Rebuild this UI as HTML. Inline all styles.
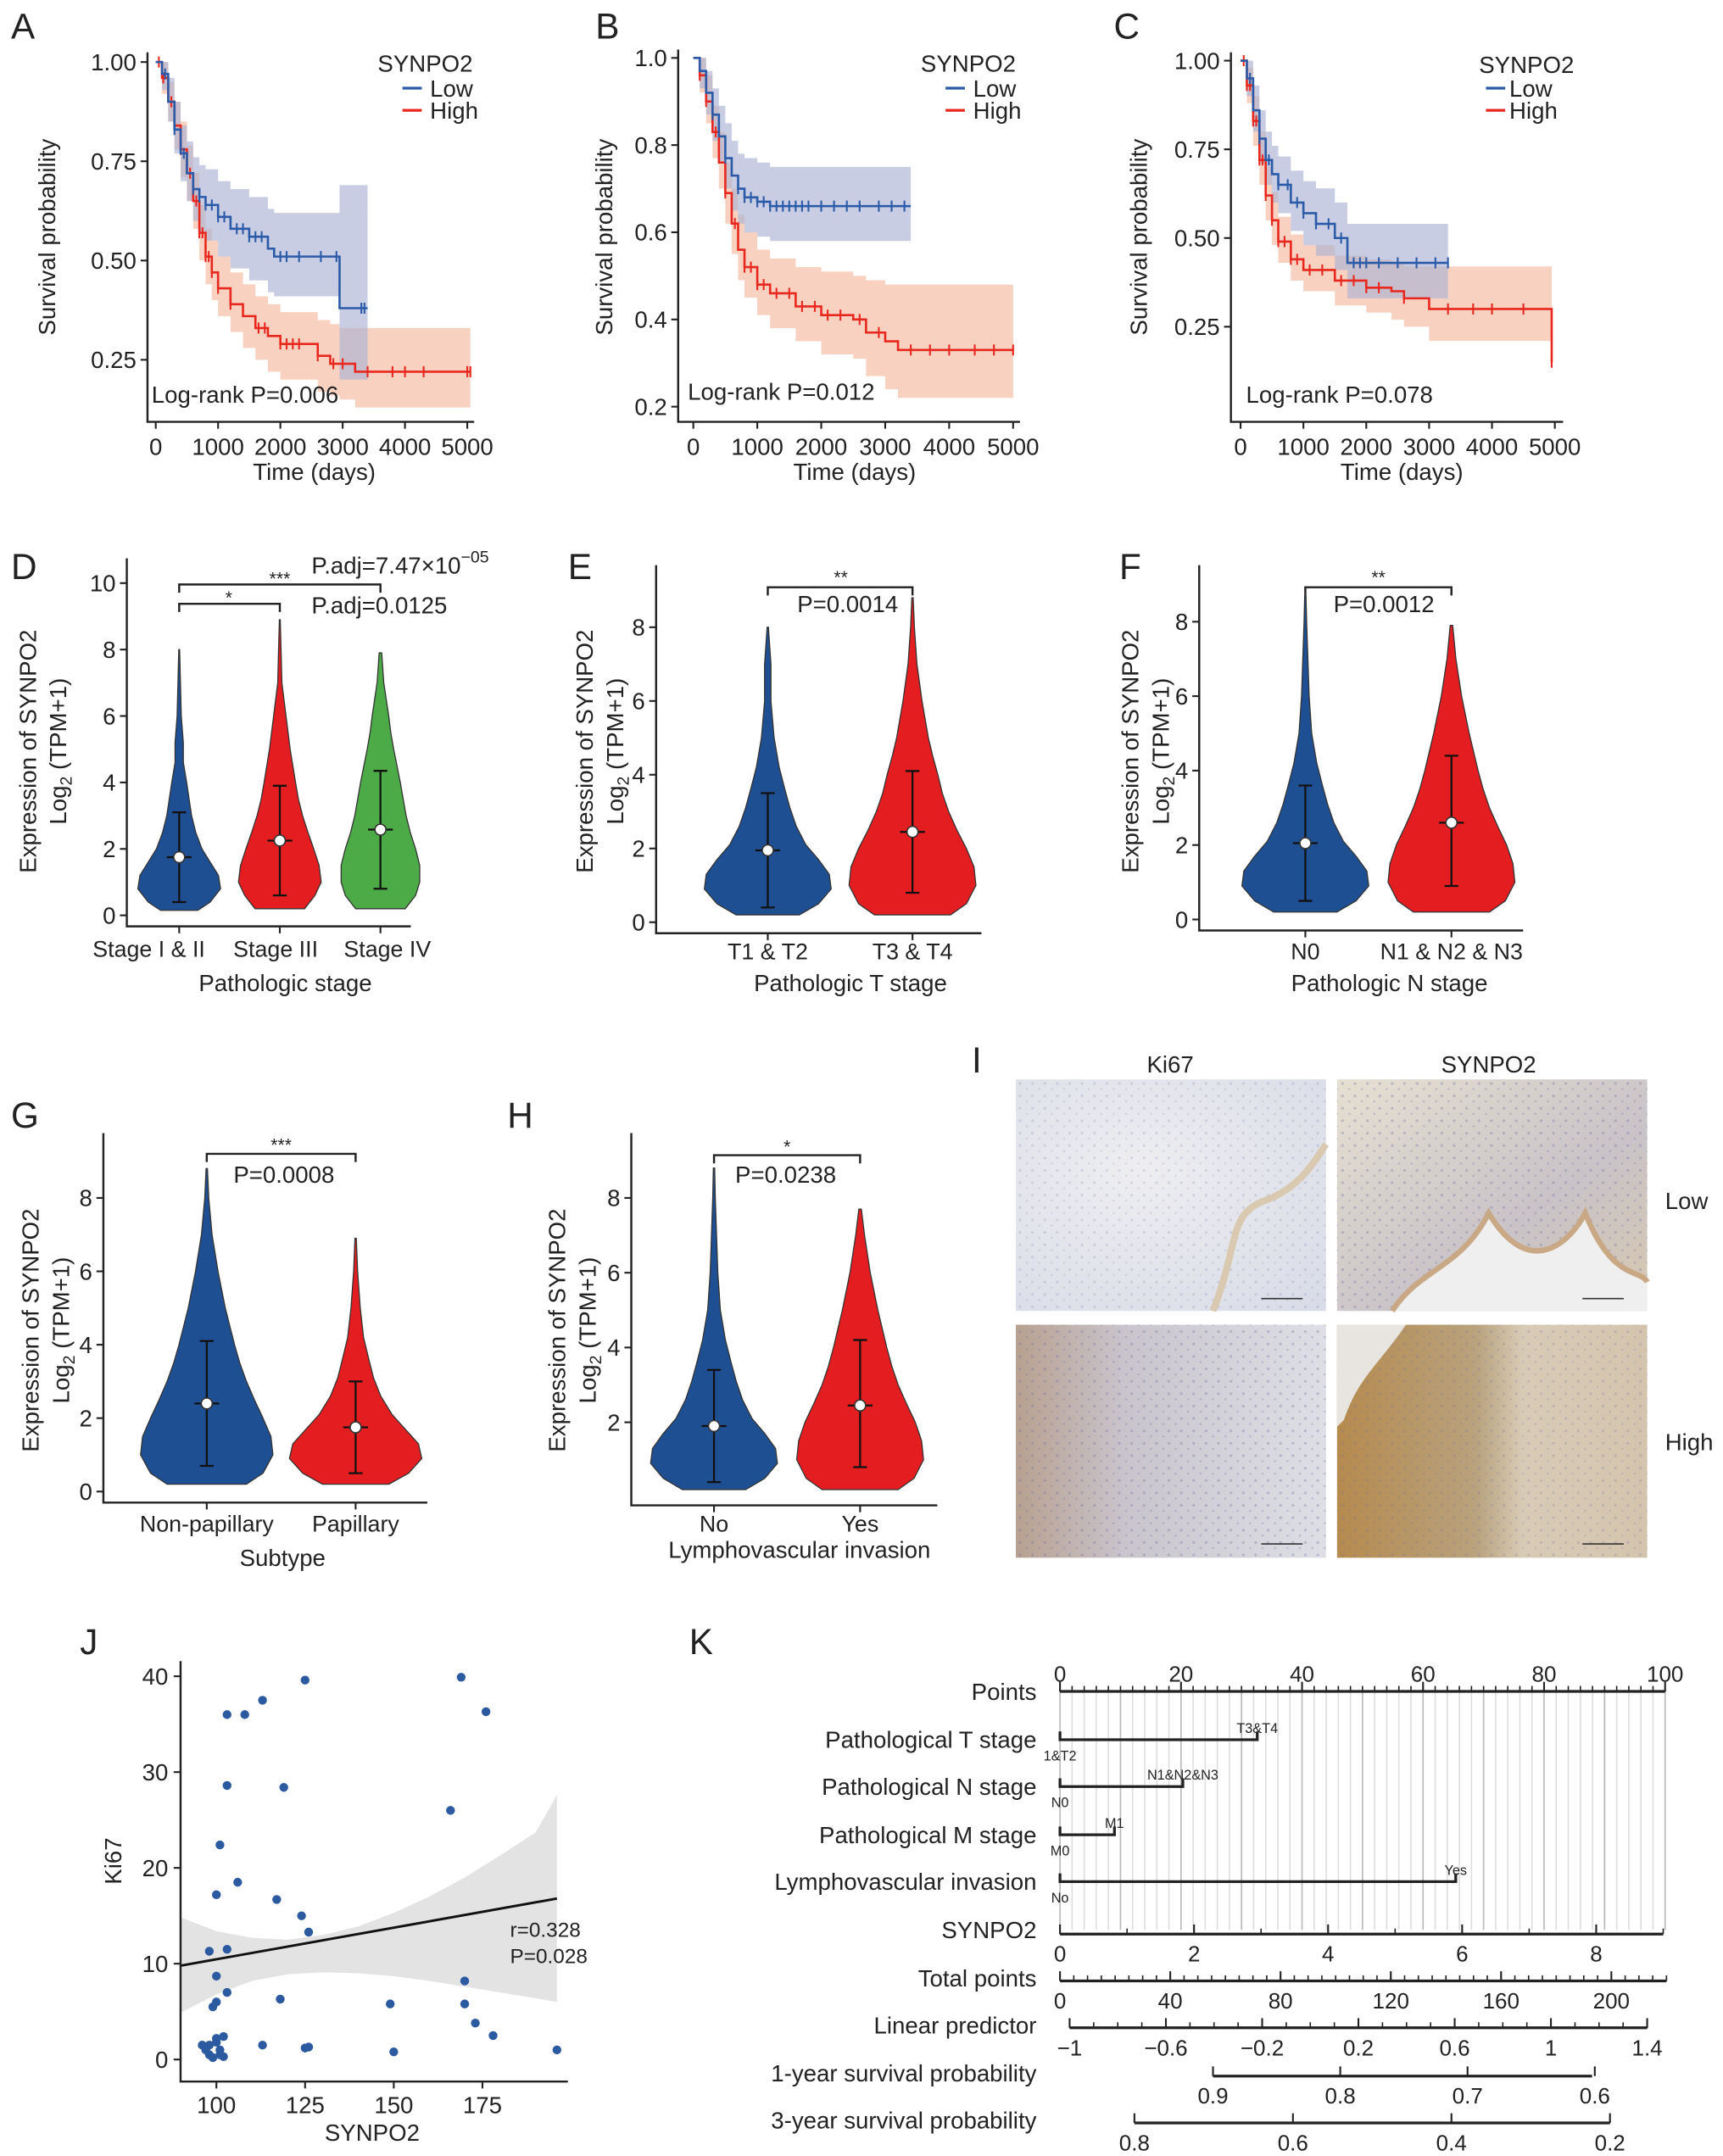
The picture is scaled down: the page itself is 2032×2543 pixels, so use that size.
<!DOCTYPE html>
<html><head><meta charset="utf-8"><title>SYNPO2 figure</title>
<style>
html,body{margin:0;padding:0;background:#fff}
svg{display:block}
text{font-family:"Liberation Sans",Arial,sans-serif;fill:#222}
</style></head>
<body>
<svg id="fig" xmlns="http://www.w3.org/2000/svg" width="2032" height="2543" viewBox="0 0 1250 1564" preserveAspectRatio="none">
<defs>
<radialGradient id="gTL" cx="0.4" cy="0.4" r="0.8"><stop offset="0" stop-color="#eeeef0"/><stop offset="1" stop-color="#d9dce8"/></radialGradient>
<linearGradient id="gTR" x1="0" y1="0" x2="1" y2="1"><stop offset="0" stop-color="#e6e0d2"/><stop offset="0.6" stop-color="#c9c3c8"/><stop offset="1" stop-color="#d8c8b0"/></linearGradient>
<linearGradient id="gBL" x1="0" y1="0" x2="1" y2="0"><stop offset="0" stop-color="#b8a090"/><stop offset="0.35" stop-color="#c9c4cc"/><stop offset="1" stop-color="#dedfe6"/></linearGradient>
<linearGradient id="gBR" x1="0" y1="0" x2="1" y2="0"><stop offset="0" stop-color="#b58a4e"/><stop offset="0.45" stop-color="#b9a27e"/><stop offset="0.6" stop-color="#d8cbb6"/><stop offset="1" stop-color="#d4c4ae"/></linearGradient>
<pattern id="cells" width="9" height="9" patternUnits="userSpaceOnUse"><circle cx="2" cy="3" r="1" fill="#6a70a0" fill-opacity="0.35"/><circle cx="7" cy="7" r="0.8" fill="#6a70a0" fill-opacity="0.3"/></pattern>
</defs>

<!-- panel letters -->
<text x="8" y="28" font-size="26">A</text>
<text x="432" y="28" font-size="26">B</text>
<text x="808" y="28" font-size="26">C</text>
<text x="8" y="420" font-size="26">D</text>
<text x="412" y="420" font-size="26">E</text>
<text x="812" y="420" font-size="26">F</text>
<text x="8" y="818" font-size="26">G</text>
<text x="368" y="818" font-size="26">H</text>
<text x="705" y="778" font-size="26">I</text>
<text x="58" y="1200" font-size="26">J</text>
<text x="500" y="1200" font-size="26">K</text>

<!-- KM legends / texts -->
<g font-size="17">
<text x="274" y="52">SYNPO2</text>
<line x1="292" y1="64" x2="306" y2="64" stroke="#2b5ba8" stroke-width="2"/><text x="312" y="70">Low</text>
<line x1="292" y1="80" x2="306" y2="80" stroke="#e8281e" stroke-width="2"/><text x="312" y="86">High</text>
</g>
<g font-size="17">
<text x="668" y="52">SYNPO2</text>
<line x1="686" y1="64" x2="700" y2="64" stroke="#2b5ba8" stroke-width="2"/><text x="706" y="70">Low</text>
<line x1="686" y1="80" x2="700" y2="80" stroke="#e8281e" stroke-width="2"/><text x="706" y="86">High</text>
</g>
<g font-size="17">
<text x="1073" y="53">SYNPO2</text>
<line x1="1078" y1="64" x2="1092" y2="64" stroke="#2b5ba8" stroke-width="2"/><text x="1095" y="70">Low</text>
<line x1="1078" y1="80" x2="1092" y2="80" stroke="#e8281e" stroke-width="2"/><text x="1095" y="86">High</text>
</g>

<!-- KM axis titles -->
<text transform="translate(40,172) rotate(-90)" text-anchor="middle" font-size="17">Survival probability</text>
<text x="228" y="348" text-anchor="middle" font-size="17">Time (days)</text>
<text transform="translate(444,172) rotate(-90)" text-anchor="middle" font-size="17">Survival probability</text>
<text x="620" y="348" text-anchor="middle" font-size="17">Time (days)</text>
<text transform="translate(832,172) rotate(-90)" text-anchor="middle" font-size="17">Survival probability</text>
<text x="1017" y="348" text-anchor="middle" font-size="17">Time (days)</text>

<!-- violin y titles -->
<g font-size="17">
<text transform="translate(26,545) rotate(-90)" text-anchor="middle">Expression of SYNPO2</text>
<text transform="translate(48,545) rotate(-90)" text-anchor="middle">Log<tspan font-size="12" dy="4">2</tspan><tspan dy="-4"> (TPM+1)</tspan></text>
<text transform="translate(430,545) rotate(-90)" text-anchor="middle">Expression of SYNPO2</text>
<text transform="translate(452,545) rotate(-90)" text-anchor="middle">Log<tspan font-size="12" dy="4">2</tspan><tspan dy="-4"> (TPM+1)</tspan></text>
<text transform="translate(826,545) rotate(-90)" text-anchor="middle">Expression of SYNPO2</text>
<text transform="translate(848,545) rotate(-90)" text-anchor="middle">Log<tspan font-size="12" dy="4">2</tspan><tspan dy="-4"> (TPM+1)</tspan></text>
<text transform="translate(28,965) rotate(-90)" text-anchor="middle">Expression of SYNPO2</text>
<text transform="translate(50,965) rotate(-90)" text-anchor="middle">Log<tspan font-size="12" dy="4">2</tspan><tspan dy="-4"> (TPM+1)</tspan></text>
<text transform="translate(410,965) rotate(-90)" text-anchor="middle">Expression of SYNPO2</text>
<text transform="translate(432,965) rotate(-90)" text-anchor="middle">Log<tspan font-size="12" dy="4">2</tspan><tspan dy="-4"> (TPM+1)</tspan></text>
<text x="207" y="719" text-anchor="middle">Pathologic stage</text>
<text x="617" y="719" text-anchor="middle">Pathologic T stage</text>
<text x="1008" y="719" text-anchor="middle">Pathologic N stage</text>
<text x="205" y="1136" text-anchor="middle">Subtype</text>
<text x="580" y="1130" text-anchor="middle">Lymphovascular invasion</text>
</g>

<!-- significance annotations -->
<g stroke="#222" stroke-width="1.5" fill="none">
<path d="M130,430 V424 H276 V430"/>
<path d="M130,444 V438 H203 V444"/>
<path d="M557,432 V426 H662 V432"/>
<path d="M947,432 V426 H1053 V432"/>
<path d="M150,843 V837 H258 V843"/>
<path d="M518,844 V838 H624 V844"/>
</g>
<g font-size="17">
<text x="203" y="424" text-anchor="middle" font-size="13">***</text>
<text x="166" y="438" text-anchor="middle" font-size="13">*</text>
<text x="226" y="416">P.adj=7.47×10<tspan font-size="12" dy="-8">−05</tspan></text>
<text x="226" y="445">P.adj=0.0125</text>
<text x="610" y="423" text-anchor="middle" font-size="13">**</text>
<text x="615" y="444" text-anchor="middle">P=0.0014</text>
<text x="1000" y="423" text-anchor="middle" font-size="13">**</text>
<text x="1004" y="444" text-anchor="middle">P=0.0012</text>
<text x="204" y="835" text-anchor="middle" font-size="13">***</text>
<text x="206" y="858" text-anchor="middle">P=0.0008</text>
<text x="571" y="836" text-anchor="middle" font-size="13">*</text>
<text x="570" y="858" text-anchor="middle">P=0.0238</text>
</g>

<!-- Panel I IHC images -->
<g>
<text x="849" y="778" text-anchor="middle" font-size="17">Ki67</text>
<text x="1080" y="778" text-anchor="middle" font-size="17">SYNPO2</text>
<text x="1208" y="877" font-size="17">Low</text>
<text x="1208" y="1052" font-size="17">High</text>
<rect x="737" y="783" width="225" height="168" fill="url(#gTL)"/>
<rect x="737" y="783" width="225" height="168" fill="url(#cells)" opacity="0.6"/>
<path d="M880,951 C900,900 890,880 920,870 C945,860 955,840 962,830" stroke="#d8c9b0" stroke-width="5" fill="none"/>
<rect x="970" y="783" width="225" height="168" fill="url(#gTR)"/>
<rect x="970" y="783" width="225" height="168" fill="url(#cells)"/>
<path d="M1010,951 C1030,920 1060,920 1080,880 C1110,930 1140,900 1150,880 C1170,930 1190,920 1195,930 V951 Z" fill="#efefef"/>
<path d="M1010,951 C1030,920 1060,920 1080,880 C1110,930 1140,900 1150,880 C1170,930 1190,920 1195,930" stroke="#c9a886" stroke-width="4" fill="none"/>
<rect x="737" y="961" width="225" height="169" fill="url(#gBL)"/>
<rect x="737" y="961" width="225" height="169" fill="url(#cells)"/>
<rect x="970" y="961" width="225" height="169" fill="url(#gBR)"/>
<rect x="970" y="961" width="225" height="169" fill="url(#cells)" opacity="0.7"/>
<path d="M970,961 H1020 C1000,990 985,1000 975,1030 L970,1035 Z" fill="#e8e4e0"/>
<g stroke="#333" stroke-width="1"><line x1="915" y1="942" x2="945" y2="942"/><line x1="1148" y1="942" x2="1178" y2="942"/><line x1="915" y1="1120" x2="945" y2="1120"/><line x1="1148" y1="1120" x2="1178" y2="1120"/></g>
</g>

<!-- J text -->
<text transform="translate(88,1350) rotate(-90)" text-anchor="middle" font-size="17">Ki67</text>
<text x="270" y="1553" text-anchor="middle" font-size="17">SYNPO2</text>

<g id="marks"></g>

<text x="110" y="292" font-size="17">Log-rank P=0.006</text>
<text x="499" y="290" font-size="17">Log-rank P=0.012</text>
<text x="904" y="292" font-size="17">Log-rank P=0.078</text>
<text x="370" y="1405" font-size="15">r=0.328</text>
<text x="370" y="1424" font-size="15">P=0.028</text>
</svg>

<script>
// ================= DATA =================
const kmA_lowTime=[0,100,200,300,400,500,600,700,800,1000,1200,1500,1800,1900,2950,3400];
const kmA_lowSurv=[1,0.97,0.9,0.83,0.77,0.72,0.68,0.66,0.64,0.61,0.58,0.56,0.53,0.51,0.38,0.38];
const kmA_lowLo=[1,0.93,0.85,0.77,0.7,0.65,0.6,0.57,0.55,0.51,0.48,0.45,0.42,0.41,0.2,0.2];
const kmA_lowHi=[1,1,0.96,0.9,0.84,0.8,0.76,0.74,0.73,0.7,0.68,0.66,0.63,0.62,0.69,0.69];
const kmA_lowCens=[150,300,450,600,700,800,900,1000,1100,1300,1400,1500,1600,1700,2000,2100,2300,2650,2900,3300,3350];
const kmA_highTime=[0,100,200,300,400,500,600,700,800,900,1000,1200,1400,1600,1800,2000,2600,2800,2950,3200,5050];
const kmA_highSurv=[1,0.96,0.9,0.84,0.78,0.72,0.65,0.57,0.51,0.47,0.43,0.39,0.36,0.33,0.31,0.29,0.26,0.24,0.24,0.22,0.22];
const kmA_highLo=[1,0.92,0.85,0.78,0.71,0.65,0.58,0.5,0.44,0.4,0.36,0.32,0.28,0.25,0.22,0.2,0.17,0.16,0.15,0.13,0.13];
const kmA_highHi=[1,1,0.95,0.9,0.85,0.79,0.72,0.64,0.58,0.55,0.51,0.47,0.44,0.41,0.39,0.37,0.35,0.34,0.33,0.33,0.33];
const kmA_highCens=[50,120,250,400,550,650,700,750,800,850,900,1000,1200,1650,1750,2000,2100,2200,2300,2600,2850,3000,3400,3800,4000,4300,5000,5050];
const kmB_lowTime=[0,100,200,300,400,500,600,700,800,1000,1200,3400];
const kmB_lowSurv=[1,0.97,0.92,0.87,0.82,0.77,0.73,0.7,0.68,0.67,0.66,0.66];
const kmB_lowLo=[1,0.93,0.87,0.81,0.76,0.7,0.65,0.62,0.6,0.59,0.58,0.58];
const kmB_lowHi=[1,1,0.97,0.93,0.89,0.85,0.81,0.78,0.77,0.76,0.75,0.75];
const kmB_lowCens=[300,500,700,800,900,1000,1100,1200,1300,1400,1500,1600,1700,1800,2000,2200,2400,2600,2900,3100,3300];
const kmB_highTime=[0,100,200,300,400,500,600,700,800,1000,1200,1600,2000,2500,2700,3000,3200,5000];
const kmB_highSurv=[1,0.96,0.9,0.83,0.76,0.69,0.62,0.56,0.52,0.48,0.46,0.43,0.41,0.4,0.37,0.35,0.33,0.33];
const kmB_highLo=[1,0.92,0.85,0.77,0.7,0.62,0.55,0.49,0.45,0.41,0.38,0.35,0.32,0.31,0.27,0.24,0.22,0.2];
const kmB_highHi=[1,1,0.96,0.89,0.83,0.76,0.7,0.64,0.6,0.56,0.54,0.52,0.51,0.5,0.49,0.48,0.48,0.48];
const kmB_highCens=[100,200,350,500,650,800,900,1000,1100,1300,1500,1700,1900,2100,2300,2600,2900,3400,3700,4000,4400,4700,5000];
const kmC_lowTime=[0,100,200,300,400,500,600,800,1000,1200,1500,1700,3300];
const kmC_lowSurv=[1,0.95,0.86,0.78,0.72,0.68,0.65,0.6,0.57,0.54,0.5,0.43,0.43];
const kmC_lowLo=[1,0.9,0.8,0.71,0.65,0.6,0.57,0.52,0.48,0.45,0.41,0.33,0.33];
const kmC_lowHi=[1,1,0.93,0.86,0.8,0.76,0.73,0.69,0.66,0.64,0.6,0.54,0.54];
const kmC_lowCens=[150,300,450,600,750,900,1000,1200,1400,1600,1800,1900,2000,2200,2500,2800,3100,3300];
const kmC_highTime=[0,100,200,300,400,500,600,800,1000,1500,2000,2400,2600,3000,4900,4950];
const kmC_highSurv=[1,0.93,0.83,0.72,0.62,0.55,0.49,0.44,0.41,0.38,0.36,0.35,0.33,0.3,0.3,0.15];
const kmC_highLo=[1,0.88,0.76,0.65,0.55,0.48,0.43,0.38,0.35,0.31,0.29,0.27,0.25,0.21,0.21,0.05];
const kmC_highHi=[1,0.98,0.9,0.8,0.7,0.63,0.56,0.51,0.48,0.45,0.44,0.43,0.42,0.42,0.42,0.62];
const kmC_highCens=[50,100,150,200,250,300,350,400,500,600,700,800,900,1100,1300,1600,1800,2000,2200,2600,3300,3700,4000,4500,4950];
const kmTimeTicks=[0,1000,2000,3000,4000,5000];
const kmA_yTicks=[0.25,0.5,0.75,1.0];
const kmA_yLabels=["0.25","0.50","0.75","1.00"];
const kmB_yTicks=[0.2,0.4,0.6,0.8,1.0];
const kmB_yLabels=["0.2","0.4","0.6","0.8","1.0"];

const vD1_y=[0.15,0.4,0.8,1.2,1.6,2.0,2.5,3.0,3.5,4.0,4.6,5.2,6.0,7.0,8.0];
const vD1_w=[0.45,0.75,1.0,0.95,0.75,0.55,0.4,0.3,0.24,0.18,0.1,0.1,0.05,0.03,0.01];
const vD2_y=[0.2,0.6,1.0,1.5,2.0,2.5,3.0,3.5,4.0,5.0,6.0,7.0,8.0,8.9];
const vD2_w=[0.6,0.85,1.0,0.95,0.82,0.68,0.55,0.45,0.38,0.25,0.15,0.05,0.03,0.01];
const vD3_y=[0.2,0.6,1.0,1.5,2.0,2.5,3.0,3.5,4.0,4.5,5.0,5.5,6.0,7.0,7.9];
const vD3_w=[0.6,0.85,0.95,0.95,0.85,0.72,0.62,0.55,0.48,0.4,0.32,0.25,0.2,0.08,0.03];
const violinD_median=[1.75,2.25,2.58];
const violinD_low=[0.4,0.6,0.8];
const violinD_high=[3.1,3.9,4.35];
const violinD_cats=["Stage I & II","Stage III","Stage IV"];

const vE1_y=[0.2,0.5,0.9,1.3,1.7,2.1,2.6,3.1,3.6,4.2,5.0,6.0,7.0,8.0];
const vE1_w=[0.5,0.8,1.0,0.97,0.8,0.6,0.45,0.35,0.27,0.18,0.1,0.05,0.05,0.01];
const vE2_y=[0.2,0.5,1.0,1.5,2.0,2.5,3.0,3.5,4.0,4.5,5.0,6.0,7.0,8.0,8.8];
const vE2_w=[0.6,0.85,1.0,0.97,0.85,0.7,0.57,0.47,0.4,0.32,0.25,0.15,0.07,0.03,0.01];
const violinE_median=[1.95,2.45];
const violinE_low=[0.4,0.8];
const violinE_high=[3.5,4.1];
const violinE_cats=["T1 & T2","T3 & T4"];

const vF1_y=[0.2,0.5,0.9,1.3,1.7,2.1,2.6,3.1,3.6,4.2,5.0,6.0,7.0,8.0,8.7];
const vF1_w=[0.5,0.8,1.0,0.97,0.8,0.6,0.45,0.35,0.27,0.18,0.1,0.06,0.04,0.02,0.01];
const vF2_y=[0.2,0.5,1.0,1.5,2.0,2.5,3.0,3.5,4.0,4.5,5.0,6.0,7.0,7.9];
const vF2_w=[0.6,0.85,1.0,0.97,0.87,0.73,0.6,0.5,0.42,0.35,0.28,0.16,0.07,0.02];
const violinF_median=[2.05,2.6];
const violinF_low=[0.5,0.9];
const violinF_high=[3.6,4.4];
const violinF_cats=["N0","N1 & N2 & N3"];

const vG1_y=[0.2,0.5,1.0,1.5,2.0,2.5,3.0,3.5,4.0,4.5,5.0,6.0,7.0,8.0,8.8];
const vG1_w=[0.6,0.85,1.0,0.97,0.85,0.72,0.6,0.5,0.42,0.35,0.28,0.17,0.08,0.03,0.01];
const vG2_y=[0.2,0.5,0.9,1.3,1.7,2.1,2.6,3.1,3.6,4.2,5.0,6.0,6.9];
const vG2_w=[0.5,0.8,1.0,0.95,0.75,0.55,0.38,0.27,0.2,0.12,0.07,0.03,0.01];
const violinG_median=[2.4,1.75];
const violinG_low=[0.7,0.5];
const violinG_high=[4.1,3.0];
const violinG_cats=["Non-papillary","Papillary"];

const vH1_y=[0.2,0.5,0.9,1.3,1.7,2.1,2.6,3.1,3.6,4.2,5.0,6.0,7.0,8.0,8.8];
const vH1_w=[0.5,0.8,1.0,0.97,0.8,0.6,0.45,0.35,0.27,0.18,0.1,0.06,0.04,0.02,0.01];
const vH2_y=[0.2,0.5,1.0,1.5,2.0,2.5,3.0,3.5,4.0,4.5,5.0,6.0,7.0,7.7];
const vH2_w=[0.6,0.85,1.0,0.97,0.87,0.73,0.6,0.5,0.42,0.35,0.28,0.16,0.07,0.02];
const violinH_median=[1.9,2.45];
const violinH_low=[0.4,0.8];
const violinH_high=[3.4,4.2];
const violinH_cats=["No","Yes"];

const scatterSynpo2=[96,97,98,98,99,99,100,100,101,101,102,102,98,100,101,100,100,103,103,103,103,106,108,113,113,117,118,119,124,126,125,125,126,149,150,166,169,170,170,173,176,178,196];
const scatterKi67=[1.5,1,0.5,1.5,0.2,5.5,1.8,2.2,1,0.5,0.3,2.4,11.3,17.2,22.4,8.7,6,7,11.5,28.6,36,18.5,36,37.5,1.5,16.7,6.3,28.4,15,13.3,39.6,1.2,1.3,5.8,0.8,26,39.9,8.2,5.8,3.8,36.3,2.5,1];
const bandX=[90,100,110,120,130,140,150,160,170,180,190,196];
const bandLo=[4.9,6.8,8.2,8.9,9.1,9.0,8.7,8.2,7.6,7.0,6.4,6.0];
const bandHi=[14.8,13.4,12.7,12.5,13.0,13.9,15.3,17.0,19.0,21.3,23.7,27.6];
const fitX=[90,196];
const fitY=[9.8,16.8];
const jxTicks=[100,125,150,175];
const jyTicks=[0,10,20,30,40];

const nomoRows=["Points","Pathological T stage","Pathological N stage","Pathological M stage","Lymphovascular invasion","SYNPO2","Total points","Linear predictor","1-year survival probability","3-year survival probability"];
const nomoVarPoints=[32.6,20.3,9.0,65.4];
const nomoVarLow=["1&T2","N0","M0","No"];
const nomoVarHigh=["T3&T4","N1&N2&N3","M1","Yes"];
const pointsTicks=[0,20,40,60,80,100];
const synpo2Ticks=[0,2,4,6,8];
const totalTicks=[0,40,80,120,160,200];
const lpTicks=[-1,-0.6,-0.2,0.2,0.6,1,1.4];
const lpLabels=["\u22121","\u22120.6","\u22120.2","0.2","0.6","1","1.4"];
const surv1Ticks=[0.9,0.8,0.7,0.6];
const surv3Ticks=[0.8,0.6,0.4,0.2];

// ================= DRAWING =================
const NS='http://www.w3.org/2000/svg';
const marks=document.getElementById('marks');
function mk(tag,attrs,parent){const e=document.createElementNS(NS,tag);for(const k in attrs)e.setAttribute(k,attrs[k]);(parent||marks).appendChild(e);return e;}
function lin(d0,d1,r0,r1){return v=>r0+(v-d0)/(d1-d0)*(r1-r0);}
const BLUE='#2b5ba8',RED='#e8281e';

function stepPath(T,S,X,Y){let d='M'+X(T[0])+','+Y(S[0]);for(let i=1;i<T.length;i++){d+=' H'+X(T[i])+' V'+Y(S[i]);}return d;}
function bandPath(T,L,H,X,Y){let up=[],dn=[];for(let i=0;i<T.length;i++){const x0=X(T[i]),x1=X(i+1<T.length?T[i+1]:T[i]);up.push(x0+','+Y(H[i]),x1+','+Y(H[i]));dn.push(x0+','+Y(L[i]),x1+','+Y(L[i]));}return 'M'+up.join(' L')+' L'+dn.reverse().join(' L')+' Z';}
function survAt(T,S,t){let s=S[0];for(let i=0;i<T.length;i++){if(T[i]<=t)s=S[i];}return s;}

function drawKM(id,ax,X,Y,yTicks,yLabels,low,high){
  const g=mk('g',{});
  
  
  const groups=[[high,'#f4b9a0',RED,'high'],[low,'#aab2d4',BLUE,'low']];
  groups.forEach(([s,fill,col,nm])=>{
    const b=mk('path',{d:bandPath(s[0],s[2],s[3],X,Y),fill:fill,'fill-opacity':'0.65',stroke:'none'},g);
    
    
  });
  groups.forEach(([s,fill,col,nm])=>{
    const p=mk('path',{d:stepPath(s[0],s[1],X,Y),fill:'none',stroke:col,'stroke-width':1.6},g);
    
    
    s[4].forEach(t=>{const y=Y(survAt(s[0],s[1],t));
      const c=mk('line',{x1:X(t),x2:X(t),y1:y-4,y2:y+4,stroke:col,'stroke-width':1.3},g);
      
      });
  });
  const axl=mk('path',{d:`M${ax.x},${ax.top} V${ax.bottom} H${ax.right}`,fill:'none',stroke:'#222','stroke-width':1.5},g);
  
  
  yTicks.forEach((v,i)=>{const y=Y(v);
    mk('line',{x1:ax.x-5,x2:ax.x,y1:y,y2:y,stroke:'#222','stroke-width':1.3},g);
    const t=mk('text',{x:ax.x-8,y:y+6,'text-anchor':'end','font-size':17},g);t.textContent=yLabels[i];
    
    });
  kmTimeTicks.forEach(v=>{const x=X(v);
    mk('line',{x1:x,x2:x,y1:ax.bottom,y2:ax.bottom+5,stroke:'#222','stroke-width':1.3},g);
    const t=mk('text',{x:x,y:ax.bottom+24,'text-anchor':'middle','font-size':17},g);t.textContent=v;
    
    });
}
drawKM('a',{x:107,top:38,bottom:306,right:344},lin(0,5000,113,339),lin(0.25,1,261,45),kmA_yTicks,kmA_yLabels,
  [kmA_lowTime,kmA_lowSurv,kmA_lowLo,kmA_lowHi,kmA_lowCens],[kmA_highTime,kmA_highSurv,kmA_highLo,kmA_highHi,kmA_highCens]);
drawKM('b',{x:492,top:36,bottom:306,right:740},lin(0,5000,503,735),lin(0.2,1,295,42),kmB_yTicks,kmB_yLabels,
  [kmB_lowTime,kmB_lowSurv,kmB_lowLo,kmB_lowHi,kmB_lowCens],[kmB_highTime,kmB_highSurv,kmB_highLo,kmB_highHi,kmB_highCens]);
drawKM('c',{x:893,top:38,bottom:306,right:1134},lin(0,5000,900,1128),lin(0.25,1,237,44),kmA_yTicks,kmA_yLabels,
  [kmC_lowTime,kmC_lowSurv,kmC_lowLo,kmC_lowHi,kmC_lowCens],[kmC_highTime,kmC_highSurv,kmC_highLo,kmC_highHi,kmC_highCens]);

function drawViolinPanel(id,ax,Y,xs,halfW,profiles,cols,med,lo,hi,cats,yTicks,labelY,labelX){
  const g=mk('g',{});
  
  
  profiles.forEach((pr,i)=>{
    const [ys,ws]=pr;const cx=xs[i];
    let right=ys.map((v,k)=>(cx+ws[k]*halfW)+','+Y(v));
    let left=ys.map((v,k)=>(cx-ws[k]*halfW)+','+Y(v)).reverse();
    const p=mk('path',{d:'M'+right.join(' L')+' L'+left.join(' L')+' Z',fill:cols[i],stroke:'#333','stroke-width':0.8,'stroke-linejoin':'round'},g);
    
    
    const w=mk('path',{d:`M${cx},${Y(lo[i])} V${Y(hi[i])} M${cx-5},${Y(lo[i])} H${cx+5} M${cx-5},${Y(hi[i])} H${cx+5} M${cx-9},${Y(med[i])} H${cx+9}`,stroke:'#111','stroke-width':1.4,fill:'none'},g);
    
    
    const c=mk('circle',{cx:cx,cy:Y(med[i]),r:4,fill:'#fff',stroke:'#333','stroke-width':1},g);
    
    
    mk('line',{x1:cx,x2:cx,y1:ax.bottom,y2:ax.bottom+5,stroke:'#222','stroke-width':1.3},g);
    const t=mk('text',{x:labelX?labelX[i]:cx,y:labelY,'text-anchor':'middle','font-size':16.5},g);t.textContent=cats[i];
    
    
  });
  const a=mk('path',{d:`M${ax.x},${ax.top} V${ax.bottom} H${ax.right}`,fill:'none',stroke:'#222','stroke-width':1.5},g);
  
  
  yTicks.forEach(v=>{const y=Y(v);
    mk('line',{x1:ax.x-5,x2:ax.x,y1:y,y2:y,stroke:'#222','stroke-width':1.3},g);
    const t=mk('text',{x:ax.x-8,y:y+6,'text-anchor':'end','font-size':17},g);t.textContent=v;
    
    });
}
const VB='#1f4f93',VR='#e41e20',VG='#4dab47';
drawViolinPanel('d',{x:92,top:405,bottom:672,right:298},lin(0,10,664,423),[130,203,276],30,
  [[vD1_y,vD1_w],[vD2_y,vD2_w],[vD3_y,vD3_w]],[VB,VR,VG],violinD_median,violinD_low,violinD_high,violinD_cats,[0,2,4,6,8,10],694,[108,200,281]);
drawViolinPanel('e',{x:476,top:410,bottom:677,right:712},lin(0,8,669,455),[557,662],46,
  [[vE1_y,vE1_w],[vE2_y,vE2_w]],[VB,VR],violinE_median,violinE_low,violinE_high,violinE_cats,[0,2,4,6,8],696);
drawViolinPanel('f',{x:870,top:410,bottom:675,right:1105},lin(0,8,667,451),[947,1053],46,
  [[vF1_y,vF1_w],[vF2_y,vF2_w]],[VB,VR],violinF_median,violinF_low,violinF_high,violinF_cats,[0,2,4,6,8],696);
drawViolinPanel('g',{x:75,top:822,bottom:1090,right:310},lin(0,8,1082,869),[150,258],48,
  [[vG1_y,vG1_w],[vG2_y,vG2_w]],[VB,VR],violinG_median,violinG_low,violinG_high,violinG_cats,[0,2,4,6,8],1111);
drawViolinPanel('h',{x:458,top:822,bottom:1092,right:680},lin(0,8,1086,869),[518,624],46,
  [[vH1_y,vH1_w],[vH2_y,vH2_w]],[VB,VR],violinH_median,violinH_low,violinH_high,violinH_cats,[2,4,6,8],1111);

(function(){
  const X=lin(100,175,157,350),Y=lin(0,40,1494,1216);
  const g=mk('g',{});
  
  
  const up=bandX.map((v,i)=>X(v)+','+Y(bandHi[i])),dn=bandX.map((v,i)=>X(v)+','+Y(bandLo[i])).reverse();
  const b=mk('path',{d:'M'+up.join(' L')+' L'+dn.join(' L')+' Z',fill:'#e3e3e3',stroke:'none'},g);
  
  
  const l=mk('line',{x1:X(fitX[0]),y1:Y(fitY[0]),x2:X(fitX[1]),y2:Y(fitY[1]),stroke:'#111','stroke-width':1.8},g);
  
  
  scatterSynpo2.forEach((v,i)=>{
    const c=mk('circle',{cx:X(v),cy:Y(scatterKi67[i]),r:3.2,fill:'#2c5aa0'},g);
    
    
  });
  const a=mk('path',{d:'M131,1205 V1510 H412',fill:'none',stroke:'#222','stroke-width':1.5},g);
  
  
  jyTicks.forEach(v=>{const y=Y(v);mk('line',{x1:126,x2:131,y1:y,y2:y,stroke:'#222','stroke-width':1.3},g);
    const t=mk('text',{x:122,y:y+6,'text-anchor':'end','font-size':17},g);t.textContent=v;
    
    });
  jxTicks.forEach(v=>{const x=X(v);mk('line',{x1:x,x2:x,y1:1510,y2:1515,stroke:'#222','stroke-width':1.3},g);
    const t=mk('text',{x:x,y:1533,'text-anchor':'middle','font-size':17},g);t.textContent=v;
    
    });
})();

(function(){
  const P=lin(0,100,769,1208);
  const rowY=[1227,1262,1296,1331,1365,1400,1435,1469,1504,1538];
  const g=mk('g',{});
  
  
  for(let v=0;v<=100;v+=2){const x=P(v);
    const gl=mk('line',{x1:x,x2:x,y1:1227,y2:1400,stroke:v%10===0?'#b8b8b8':'#dedede','stroke-width':1},g);
    
    }
  nomoRows.forEach((r,i)=>{const t=mk('text',{x:752,y:rowY[i]+6,'text-anchor':'end','font-size':17},g);t.textContent=r;
    
    });
  function axis(y,x0,x1,ticks,labels,above,minor){
    mk('line',{x1:x0,x2:x1,y1:y,y2:y,stroke:'#222','stroke-width':2},g);
    minor.forEach(x=>mk('line',{x1:x,x2:x,y1:y,y2:y-4,stroke:'#222','stroke-width':1},g));
    ticks.forEach((x,i)=>{mk('line',{x1:x,x2:x,y1:y,y2:y-7,stroke:'#222','stroke-width':1.3},g);
      const t=mk('text',{x:x,y:above?y-7:y+20,'text-anchor':'middle','font-size':16},g);t.textContent=labels[i];
      
      });
  }
  const minorP=[];for(let v=0;v<=100;v+=2)minorP.push(P(v));
  axis(1227,P(0),P(100),pointsTicks.map(P),pointsTicks,true,minorP);
  nomoVarPoints.forEach((v,i)=>{const y=rowY[i+1];
    const l=mk('path',{d:`M${P(0)},${y-6} V${y} H${P(v)} V${y-6}`,fill:'none',stroke:'#222','stroke-width':2},g);
    
    
    const a=mk('text',{x:P(0),y:y+15,'text-anchor':'middle','font-size':10},g);a.textContent=nomoVarLow[i];
    
    
    const b=mk('text',{x:P(v),y:y-5,'text-anchor':'middle','font-size':10},g);b.textContent=nomoVarHigh[i];
    
    });
  const S=lin(0,8,769,1158);const ms=[];for(let v=0;v<=9;v+=1)ms.push(S(v));
  axis(1403,S(0),S(9),synpo2Ticks.map(S),synpo2Ticks,false,ms);
  const T=lin(0,200,769,1169);const mt=[];for(let v=0;v<=220;v+=5)mt.push(T(v));
  axis(1437,T(0),T(220),totalTicks.map(T),totalTicks,false,mt);
  const L=lin(-1,1.4,776,1195);const ml=[];for(let v=-1;v<=1.401;v+=0.1)ml.push(L(v));
  axis(1471,L(-1),L(1.4),lpTicks.map(L),lpLabels,false,ml);
  const S1=lin(0.9,0.6,880,1157);
  axis(1506,880,1155,surv1Ticks.map(S1),surv1Ticks,false,[]);
  const S3=lin(0.8,0.2,823,1168);
  axis(1540,823,1168,surv3Ticks.map(S3),surv3Ticks,false,[]);
})();
</script>
</body></html>
